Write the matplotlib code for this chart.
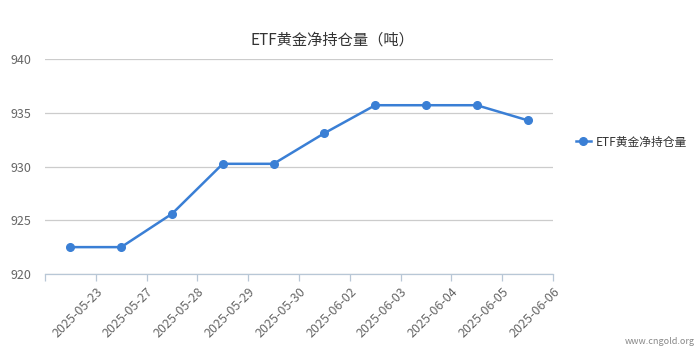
import matplotlib
matplotlib.use("Agg")
import matplotlib.pyplot as plt
from matplotlib.lines import Line2D

plt.rcParams['font.family'] = ['Noto Sans CJK SC', 'DejaVu Sans']

dates = ["2025-05-23", "2025-05-27", "2025-05-28", "2025-05-29", "2025-05-30",
         "2025-06-02", "2025-06-03", "2025-06-04", "2025-06-05", "2025-06-06"]
holdings = [922.5, 922.5, 925.6, 930.25, 930.25, 933.1, 935.7, 935.7, 935.7, 934.3]
series_name = "ETF黄金净持仓量"
title = "ETF黄金净持仓量（吨）"

line_color = "#3a7fd5"
text_color = "#666666"

fig = plt.figure(figsize=(7, 3.54), dpi=100)
ax = fig.add_axes([45 / 700, 80 / 354, 508 / 700, 215 / 354])

x = list(range(len(dates)))
ax.plot(x, holdings, color=line_color, lw=1.8, marker='o', ms=5.5, zorder=3)

ax.set_xlim(-0.5, len(dates) - 0.5)
ax.set_ylim(920, 940)
ax.set_yticks([920, 925, 930, 935, 940])
ax.grid(axis='y', color='#cccccc', lw=0.9)
ax.set_axisbelow(True)

# 刻度在类目边界上，每个标签靠在它右边的刻度上
ax.set_xticks([i - 0.5 for i in range(len(dates) + 1)])
ax.set_xticklabels([""] + dates, rotation=45, ha='right', rotation_mode='anchor',
                   fontsize=9, color=text_color)
ax.tick_params(axis='x', length=5, color='#b8c7d6', width=0.9, pad=3)
ax.tick_params(axis='y', length=0, labelsize=9, labelcolor=text_color, pad=10)

for s in ['top', 'right', 'left']:
    ax.spines[s].set_visible(False)
ax.spines['bottom'].set_color('#b8c7d6')
ax.spines['bottom'].set_linewidth(0.9)

fig.text(332 / 700, 1 - 40 / 354, title, ha='center', va='center', fontsize=11, color='#333333')

handle = Line2D([], [], color=line_color, lw=1.8, marker='o', ms=5.5)
fig.legend([handle], [series_name], loc='center left', bbox_to_anchor=(565 / 700, 1 - 142 / 354),
           frameon=False, fontsize=8.5, handlelength=1.3, handletextpad=0.4, labelcolor='#333333')

fig.text(695 / 700, 1 - 341 / 354, "www.cngold.org", ha='right', va='center', fontsize=6.5, color='#888888')

fig.savefig("out.png", dpi=100)
